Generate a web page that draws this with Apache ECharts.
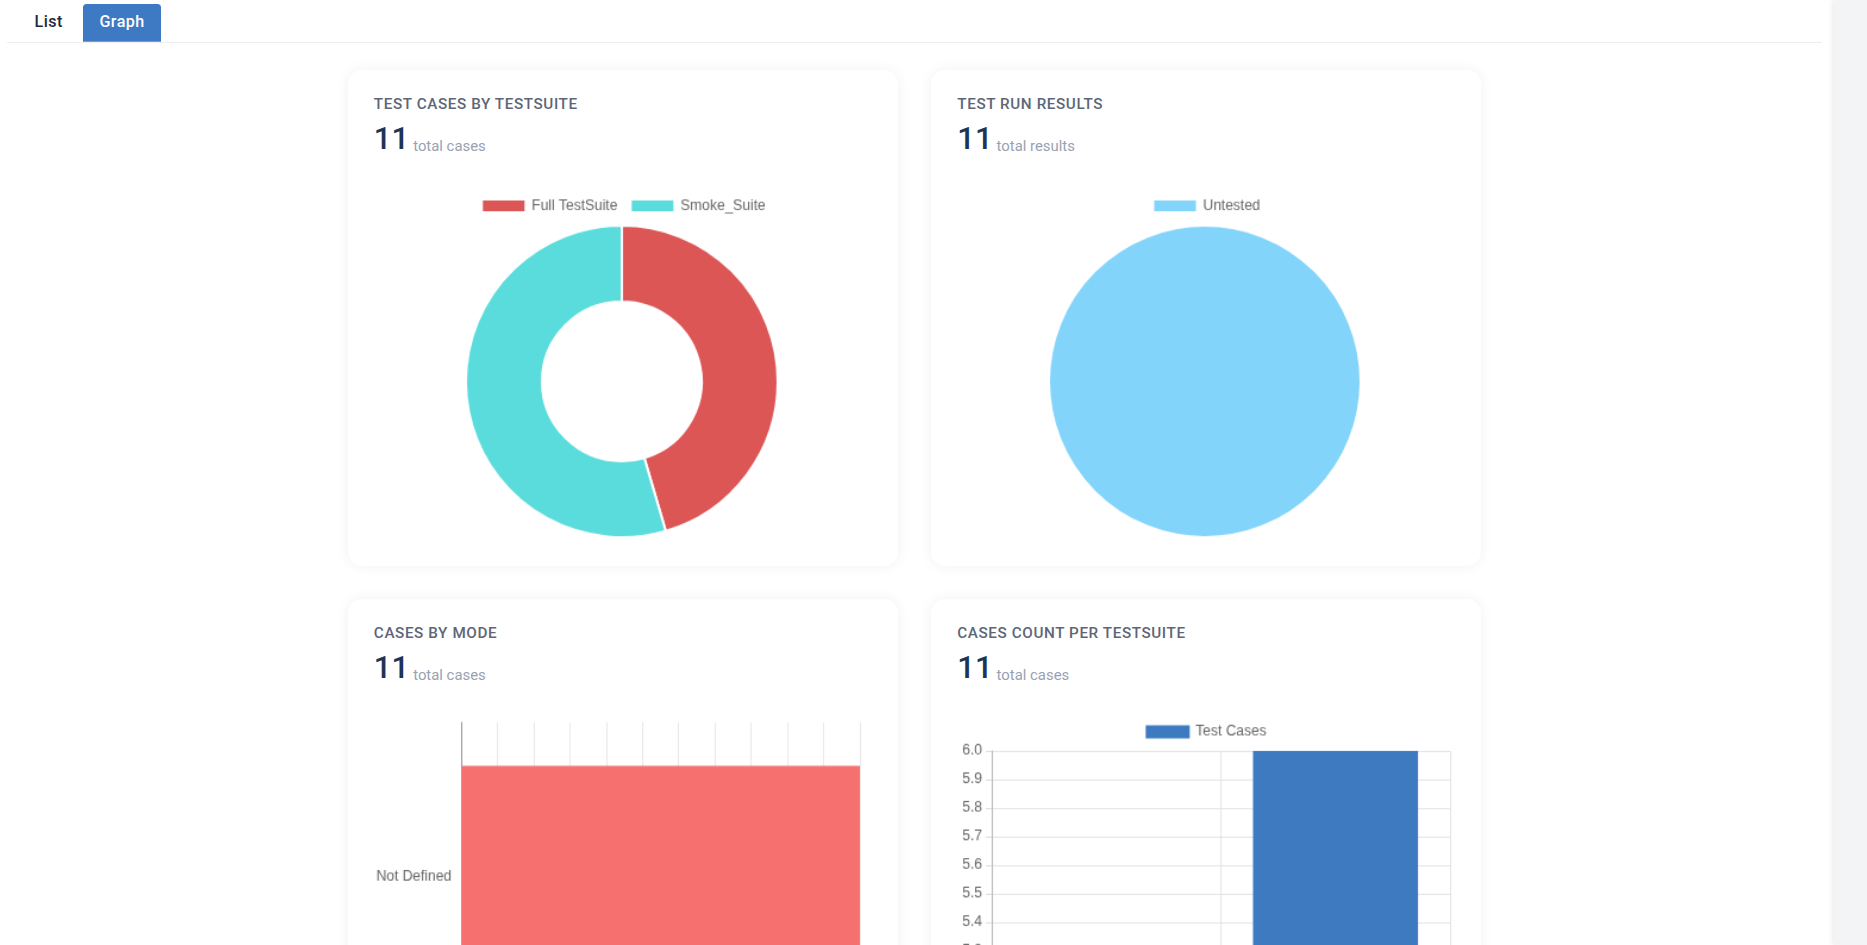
<!DOCTYPE html>
<html>
<head>
<meta charset="utf-8">
<script src="https://cdn.jsdelivr.net/npm/echarts@6/dist/echarts.min.js"></script>
<style>
  html, body { margin: 0; padding: 0; background: #fff; overflow: hidden; }
  body { zoom: 1.1907; width: 1568px; height: 794px; position: relative; font-family: Roboto, "Noto Sans", sans-serif; }
  .tabs { position: absolute; left: 6px; top: 0; width: 1524px; height: 35px; border-bottom: 1px solid #eceef2; }
  .tab { position: absolute; top: 3px; height: 32px; line-height: 31px; font-size: 13.5px; font-weight: 500; letter-spacing: 0.4px; color: #1e2a3d; box-sizing: border-box; }
  .tab.active { background: #3d7ac3; color: #fff; border-radius: 3px 3px 0 0; border-bottom: 1px solid #48c290; text-align: center; }
  .scroll { position: absolute; left: 1540px; top: 0; width: 28px; height: 794px; background: #f3f4f6; box-shadow: -2px 0 4px rgba(0,0,0,0.08); }
  .card { position: absolute; width: 462px; height: 416px; background: #fff; border-radius: 12px; box-shadow: 0 0 12px rgba(0,0,0,0.06); }
  .card .t { position: absolute; left: 22px; top: 21px; font-size: 12.8px; font-weight: 500; color: #5d6677; letter-spacing: 0.5px; }
  .card .n { position: absolute; left: 22px; top: 42px; font-size: 26px; font-weight: 500; color: #1c3557; }
  .card .s { position: absolute; left: 55px; top: 56px; font-size: 12.5px; color: #98a1b2; }
  .chart { position: absolute; width: 462px; }
</style>
</head>
<body>
<div class="tabs">
  <div class="tab" style="left:23px">List</div>
  <div class="tab active" style="left:64px;width:65px">Graph</div>
</div>
<div class="scroll"></div>

<div class="card" style="left:292px;top:59px"><div class="t">TEST CASES BY TESTSUITE</div><div class="n">11</div><div class="s">total cases</div></div>
<div class="card" style="left:782px;top:59px"><div class="t">TEST RUN RESULTS</div><div class="n">11</div><div class="s">total results</div></div>
<div class="card" style="left:292px;top:503px"><div class="t">CASES BY MODE</div><div class="n">11</div><div class="s">total cases</div></div>
<div class="card" style="left:782px;top:503px"><div class="t">CASES COUNT PER TESTSUITE</div><div class="n">11</div><div class="s">total cases</div></div>

<div id="c1" class="chart" style="left:292px;top:155px;height:310px"></div>
<div id="c2" class="chart" style="left:782px;top:155px;height:310px"></div>
<div id="c3" class="chart" style="left:292px;top:600px;height:320px"></div>
<div id="c4" class="chart" style="left:782px;top:600px;height:320px"></div>

<script>
const suiteNames = ['Full TestSuite', 'Smoke_Suite'];
const suiteValues = [5, 6];
const suiteColors = ['#dc5656', '#5adcdc'];

const resultNames = ['Untested'];
const resultValues = [11];
const resultColors = ['#82d4fa'];

const modeNames = ['Not Defined'];
const modeValues = [11];

const countCategories = ['Full TestSuite', 'Smoke_Suite'];
const countValues = [5, 6];
const yTicks = ['5.0', '5.1', '5.2', '5.3', '5.4', '5.5', '5.6', '5.7', '5.8', '5.9', '6.0'];

const textStyle = { fontFamily: '"Liberation Sans", Arial, sans-serif', fontSize: 12, color: '#666' };

function legend(names) {
  return {
    top: 6, itemWidth: 37, itemHeight: 11, itemGap: 10, icon: 'rect',
    textStyle: textStyle, data: names
  };
}

function pieOption(names, values, colors, inner) {
  return {
    animation: false,
    color: colors,
    legend: legend(names),
    series: [{
      type: 'pie',
      center: [230, 165],
      radius: [inner, 131],
      startAngle: 90,
      label: { show: false },
      labelLine: { show: false },
      itemStyle: { borderColor: '#fff', borderWidth: 2 },
      data: names.map((n, i) => ({ name: n, value: values[i] }))
    }]
  };
}

echarts.init(document.getElementById('c1')).setOption(pieOption(suiteNames, suiteValues, suiteColors, 67));
echarts.init(document.getElementById('c2')).setOption(pieOption(resultNames, resultValues, resultColors, 0));

echarts.init(document.getElementById('c3')).setOption({
  animation: false,
  grid: { left: 95, right: 32, top: 7, bottom: 53 },
  xAxis: {
    type: 'value', min: 0, max: 11, interval: 1,
    axisLine: { show: false }, axisTick: { show: false },
    axisLabel: textStyle,
    splitLine: { lineStyle: { color: '#e8e8e8' } }
  },
  yAxis: {
    type: 'category', data: modeNames,
    axisLine: { show: true, lineStyle: { color: '#999' } }, axisTick: { show: false },
    axisLabel: textStyle
  },
  series: [{
    type: 'bar', data: modeValues, barCategoryGap: '28%',
    itemStyle: { color: '#f77070' }
  }]
});

echarts.init(document.getElementById('c4')).setOption({
  animation: false,
  legend: Object.assign(legend(['Test Cases']), { top: 4 }),
  grid: { left: 51, right: 26, top: 31, bottom: 49 },
  xAxis: {
    type: 'category', data: countCategories,
    axisLine: { lineStyle: { color: '#bbb' } }, axisTick: { show: false },
    axisLabel: textStyle,
    splitLine: { show: true, lineStyle: { color: '#e4e4e4' } }
  },
  yAxis: {
    type: 'value', min: 5, max: 6, interval: 0.1,
    axisLine: { show: true, lineStyle: { color: '#bbb' } },
    axisTick: { show: true, length: 5, lineStyle: { color: '#ddd' } },
    axisLabel: Object.assign({}, textStyle, { formatter: v => yTicks[Math.round((v - 5) * 10)] }),
    splitLine: { lineStyle: { color: '#e4e4e4' } }
  },
  series: [{
    name: 'Test Cases', type: 'bar', data: countValues, barCategoryGap: '28%',
    itemStyle: { color: '#3d7ac0' }
  }]
});
</script>
</body>
</html>
